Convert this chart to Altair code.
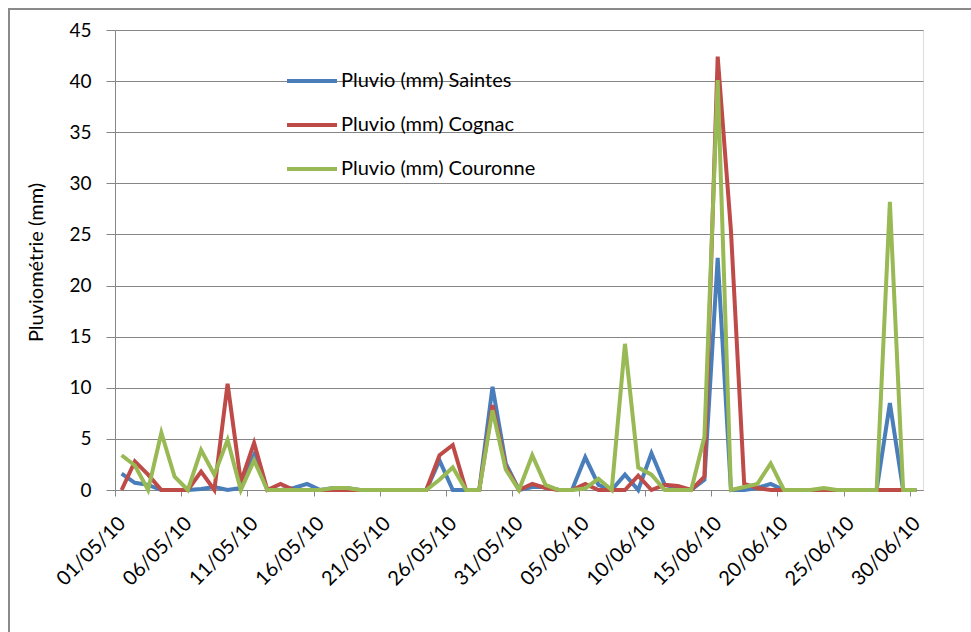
import altair as alt
import pandas as pd

# ---- data (daily rainfall, 01/05/2010 .. 30/06/2010) ----
dates = pd.date_range("2010-05-01", "2010-06-30", freq="D")

saintes = [1.6, 0.7, 0.5, 0, 0, 0, 0.1, 0.3, 0, 0.2,
           3.4, 0, 0, 0.2, 0.6, 0, 0.2, 0.2, 0, 0,
           0, 0, 0, 0, 2.9, 0, 0, 0, 10.1, 2.6,
           0, 0.3, 0.3, 0, 0, 3.2, 0.5, 0, 1.5, 0,
           3.6, 0.5, 0.2, 0, 1.0, 22.7, 0, 0, 0.2, 0.6,
           0, 0, 0, 0, 0, 0, 0, 0, 8.5, 0,
           0]
cognac = [0, 2.8, 1.5, 0, 0, 0, 1.8, 0, 10.4, 0.8,
          4.6, 0, 0.6, 0, 0, 0, 0, 0, 0, 0,
          0, 0, 0, 0, 3.4, 4.4, 0, 0, 8.3, 2.3,
          0, 0.6, 0.2, 0, 0, 0.6, 0, 0, 0, 1.4,
          0, 0.5, 0.4, 0, 1.3, 42.4, 25.4, 0.6, 0.2, 0,
          0, 0, 0, 0, 0, 0, 0, 0, 0, 0,
          0]
couronne = [3.4, 2.4, 0, 5.6, 1.3, 0, 3.9, 1.5, 4.9, 0,
            2.9, 0, 0, 0, 0, 0, 0.2, 0.2, 0, 0,
            0, 0, 0, 0, 1.0, 2.2, 0, 0, 7.8, 2.0,
            0, 3.4, 0.5, 0, 0, 0.15, 1.1, 0, 14.3, 2.2,
            1.5, 0, 0, 0, 5.2, 40.1, 0, 0.3, 0.6, 2.6,
            0, 0, 0, 0.2, 0, 0, 0, 0, 28.2, 0,
            0]

series_names = ["Pluvio (mm) Saintes", "Pluvio (mm) Cognac", "Pluvio (mm) Couronne"]
series_colors = ["#4A7EBB", "#BE4B48", "#98B954"]

tick_days = [(2010, 5, 1), (2010, 5, 6), (2010, 5, 11), (2010, 5, 16), (2010, 5, 21),
             (2010, 5, 26), (2010, 5, 31), (2010, 6, 5), (2010, 6, 10), (2010, 6, 15),
             (2010, 6, 20), (2010, 6, 25), (2010, 6, 30)]
y_ticks = [0, 5, 10, 15, 20, 25, 30, 35, 40, 45]

# ---- long table ----
rows = []
for name, vals in zip(series_names, [saintes, cognac, couronne]):
    for d, v in zip(dates, vals):
        rows.append({"date": d.strftime("%Y-%m-%dT12:00:00"), "serie": name, "value": v})
df = pd.DataFrame(rows)

FONT = "Lato"
GRID = "#868686"

x_enc = alt.X(
    "date:T",
    scale=alt.Scale(domain=[alt.DateTime(year=2010, month=5, date=1),
                            alt.DateTime(year=2010, month=7, date=1)]),
    axis=alt.Axis(
        title=None,
        values=[alt.DateTime(year=y, month=m, date=d) for (y, m, d) in tick_days],
        format="%d/%m/%y",
        labelAngle=-45,
        labelAlign="right",
        labelBaseline="top",
        labelFont=FONT,
        labelFontSize=20,
        labelColor="#000000",
        labelPadding=17,
        tickSize=6,
        tickColor=GRID,
        domainColor=GRID,
        grid=False,
        labelOverlap=False,
    ),
)

y_enc = alt.Y(
    "value:Q",
    scale=alt.Scale(domain=[0, 45], nice=False),
    axis=alt.Axis(
        title="Pluviométrie (mm)",
        values=y_ticks,
        labelFont=FONT,
        labelFontSize=19,
        labelColor="#000000",
        labelPadding=15,
        tickSize=9,
        tickColor=GRID,
        domainColor=GRID,
        grid=True,
        gridColor=GRID,
        gridWidth=1,
        titleFont=FONT,
        titleFontSize=20,
        titleFontWeight="normal",
        titleColor="#000000",
        titleX=-79,
        titleY=232,
        titleAngle=-90,
        titleAlign="center",
        titleBaseline="middle",
    ),
)

lines = alt.Chart(df).mark_line(strokeWidth=4, strokeJoin="miter").encode(
    x=x_enc,
    y=y_enc,
    color=alt.Color(
        "serie:N",
        scale=alt.Scale(domain=series_names, range=series_colors),
        legend=alt.Legend(
            title=None,
            orient="none",
            legendX=170,
            legendY=24,
            symbolType="stroke",
            symbolSize=2500,
            symbolStrokeWidth=4,
            labelFont=FONT,
            labelFontSize=20,
            labelColor="#000000",
            labelOffset=2,
            labelLimit=500,
            rowPadding=7,
        ),
    ),
)

border = alt.Chart(pd.DataFrame({"k": [0]})).mark_rect(
    fillOpacity=0, stroke="#8a8a8a", strokeWidth=2
).encode(
    x=alt.value(-106), x2=alt.value(950),
    y=alt.value(-21), y2=alt.value(700),
)

chart = alt.layer(border, lines).properties(
    width=808,
    height=460,
    autosize=alt.AutoSizeParams(type="none"),
    padding={"left": 115, "top": 30, "right": 48, "bottom": 142},
).configure_view(strokeWidth=0).configure(background="white")

chart.save("out.html", embed_options={"renderer": "svg", "actions": False})
